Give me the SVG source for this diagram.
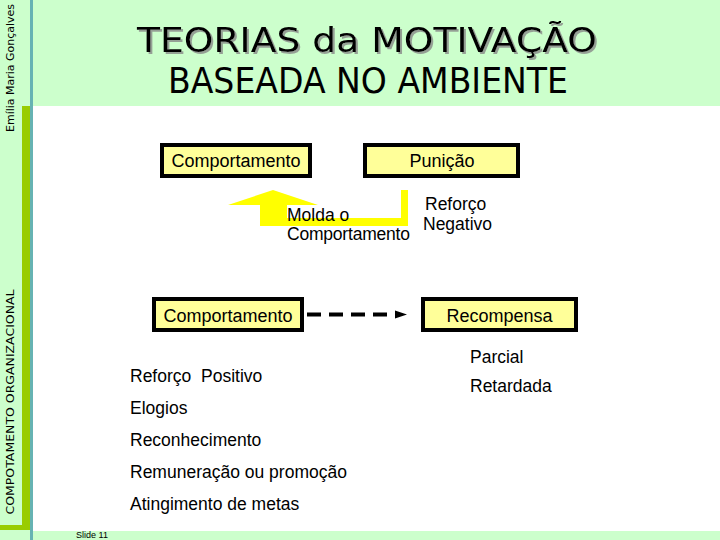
<svg xmlns="http://www.w3.org/2000/svg" width="720" height="540" viewBox="0 0 720 540">
<defs>
<style>
.box{fill:#ffff99;stroke:#000;stroke-width:4}
.bt{font-family:"Liberation Sans",Arial,sans-serif;font-size:18px;fill:#000;text-anchor:middle}
.t{font-family:"Liberation Sans",Arial,sans-serif;font-size:17.5px;fill:#000}
.ttl{font-family:"DejaVu Sans","Comic Sans MS",sans-serif;text-anchor:middle}
.side{font-family:"DejaVu Sans",sans-serif;font-size:10px;fill:#000;text-anchor:middle}
</style>
<filter id="shadow" x="-5%" y="-20%" width="110%" height="140%">
<feDropShadow dx="2" dy="2" stdDeviation="0.6" flood-color="#888" flood-opacity="0.8"/>
</filter>
</defs>
<rect x="0" y="0" width="720" height="540" fill="#fff"/>
<g id="background">
<rect x="33" y="0" width="687" height="106" fill="#ccffcc"/>
<rect x="0" y="0" width="31" height="540" fill="#ccffcc"/>
<rect x="22" y="106" width="9" height="424" fill="#99cc00"/>
<rect x="0" y="525" width="31" height="5" fill="#99cc00"/>
<rect x="33" y="531" width="687" height="9" fill="#ccffcc"/>
<rect x="30" y="0" width="3" height="540" fill="#66b3b3"/>
<text class="side" transform="translate(14,68) rotate(-90)" textLength="128" lengthAdjust="spacingAndGlyphs">Emília Maria Gonçalves</text>
<text class="side" transform="translate(14,402) rotate(-90)" textLength="225" lengthAdjust="spacingAndGlyphs">COMPOTAMENTO ORGANIZACIONAL</text>
<text x="92" y="538" font-family="Liberation Sans,Arial,sans-serif" font-size="9" text-anchor="middle" fill="#000">Slide 11</text>
</g>
<g id="title">
<text class="ttl" x="367" y="52" font-size="33" fill="#000" filter="url(#shadow)" textLength="460" lengthAdjust="spacingAndGlyphs">TEORIAS da MOTIVAÇÃO</text>
<text class="ttl" x="368" y="93" font-size="35" fill="#000" textLength="400" lengthAdjust="spacingAndGlyphs">BASEADA NO AMBIENTE</text>
</g>
<g id="connectors">
<polygon points="273,190 318,205 287,205 287,218 401,218 401,190 408,190 408,226 260,226 260,205 228,205" fill="#ffff00"/>
<line x1="307" y1="314.5" x2="398" y2="314.5" stroke="#000" stroke-width="4" stroke-dasharray="14 8"/>
<polygon points="395,310.5 407,314.5 395,318.5" fill="#000"/>
</g>
<g id="node-comportamento-1">
<rect class="box" x="162" y="145" width="148" height="31"/>
<text class="bt" x="236" y="167">Comportamento</text>
</g>
<g id="node-punicao">
<rect class="box" x="365" y="145" width="153" height="31"/>
<text class="bt" x="442" y="167">Punição</text>
</g>
<g id="label-molda">
<text class="t" x="287" y="221" font-size="17">Molda o</text>
<text class="t" x="287" y="240" font-size="17" textLength="123">Comportamento</text>
</g>
<g id="label-reforco-negativo">
<text class="t" x="425" y="210" font-size="17">Reforço</text>
<text class="t" x="423" y="230" font-size="17">Negativo</text>
</g>
<g id="node-comportamento-2">
<rect class="box" x="154" y="299" width="148" height="31"/>
<text class="bt" x="228" y="322">Comportamento</text>
</g>
<g id="node-recompensa">
<rect class="box" x="423" y="299" width="153" height="31"/>
<text class="bt" x="499.5" y="322">Recompensa</text>
</g>
<g id="list-recompensa">
<text class="t" x="470" y="363">Parcial</text>
<text class="t" x="470" y="392">Retardada</text>
</g>
<g id="list-reforco-positivo">
<text class="t" x="130" y="382" xml:space="preserve">Reforço  Positivo</text>
<text class="t" x="130" y="414">Elogios</text>
<text class="t" x="130" y="446">Reconhecimento</text>
<text class="t" x="130" y="478">Remuneração ou promoção</text>
<text class="t" x="130" y="510">Atingimento de metas</text>
</g>
</svg>
